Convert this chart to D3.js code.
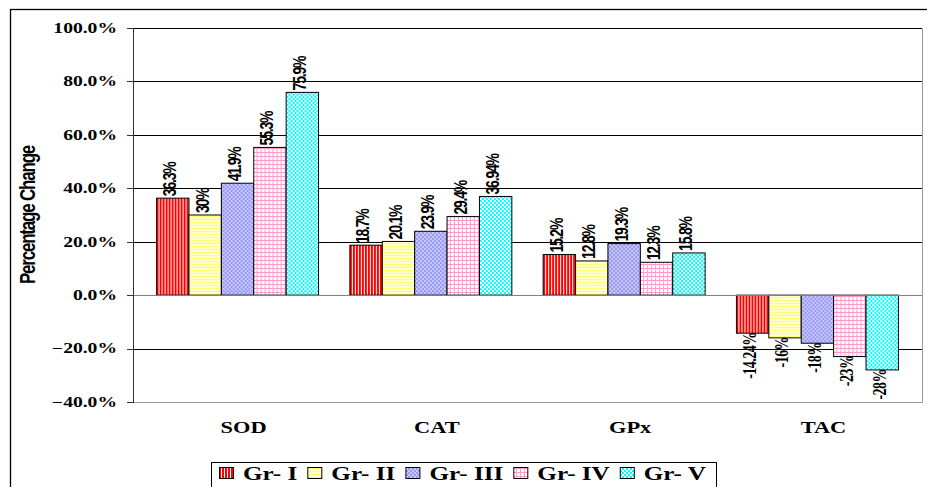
<!DOCTYPE html>
<html>
<head>
<meta charset="utf-8">
<script src="https://cdn.jsdelivr.net/npm/d3@7"></script>
<style>
  body { margin: 0; background: #fff; }
  svg { display: block; }
</style>
</head>
<body>
<svg id="chart" width="927" height="487"></svg>
<script>
var categories = ["SOD", "CAT", "GPx", "TAC"];
var groups = ["Gr- I", "Gr- II", "Gr- III", "Gr- IV", "Gr- V"];
var grI   = [36.3, 18.7, 15.2, -14.24];
var grII  = [30, 20.1, 12.8, -16];
var grIII = [41.9, 23.9, 19.3, -18];
var grIV  = [55.3, 29.4, 12.3, -23];
var grV   = [75.9, 36.94, 15.8, -28];
var yTicks = [-40, -20, 0, 20, 40, 60, 80, 100];

var series = [grI, grII, grIII, grIV, grV];

var svg = d3.select("#chart"),
  plot = {left: 133, right: 922, top: 28, bottom: 402},
  stretch = 1.4;

var serif = "'Liberation Serif', 'Times New Roman', serif";
var sans = "'Liberation Sans', Arial, sans-serif";

// patterns, one per group
var defs = svg.append("defs");

var p1 = defs.append("pattern").attr("id", "pat0").attr("patternUnits", "userSpaceOnUse")
  .attr("width", 3).attr("height", 3);
p1.append("rect").attr("width", 3).attr("height", 3).attr("fill", "#fff");
p1.append("rect").attr("width", 2).attr("height", 3).attr("fill", "#ff0000");

var p2 = defs.append("pattern").attr("id", "pat1").attr("patternUnits", "userSpaceOnUse")
  .attr("width", 3).attr("height", 3);
p2.append("rect").attr("width", 3).attr("height", 3).attr("fill", "#ffffd0");
p2.append("rect").attr("width", 3).attr("height", 1).attr("fill", "#ffff70");

var p3 = defs.append("pattern").attr("id", "pat2").attr("patternUnits", "userSpaceOnUse")
  .attr("width", 4).attr("height", 4);
p3.append("rect").attr("width", 4).attr("height", 4).attr("fill", "#c8c8fc");
p3.append("rect").attr("width", 2).attr("height", 2).attr("fill", "#9898f0");
p3.append("rect").attr("x", 2).attr("y", 2).attr("width", 2).attr("height", 2).attr("fill", "#9898f0");

var p4 = defs.append("pattern").attr("id", "pat3").attr("patternUnits", "userSpaceOnUse")
  .attr("width", 4).attr("height", 4);
p4.append("rect").attr("width", 4).attr("height", 4).attr("fill", "#fff");
p4.append("rect").attr("width", 4).attr("height", 1).attr("fill", "#ff99cc");
p4.append("rect").attr("width", 1).attr("height", 4).attr("fill", "#ff99cc");

var p5 = defs.append("pattern").attr("id", "pat4").attr("patternUnits", "userSpaceOnUse")
  .attr("width", 4).attr("height", 4);
p5.append("rect").attr("width", 4).attr("height", 4).attr("fill", "#00ffff");
p5.append("rect").attr("width", 2).attr("height", 2).attr("fill", "#fff");
p5.append("rect").attr("x", 2).attr("y", 2).attr("width", 2).attr("height", 2).attr("fill", "#fff");

// outer chart border (cut off by the picture edges)
svg.append("rect")
  .attr("x", 10.5).attr("y", 9.5)
  .attr("width", 960).attr("height", 520)
  .attr("fill", "none").attr("stroke", "#000").attr("stroke-width", 1.3);

var x0 = d3.scaleBand()
  .domain(categories)
  .range([plot.left, plot.right])
  .paddingInner(0.162)
  .paddingOuter(0.122);

var x1 = d3.scaleBand()
  .domain(groups)
  .range([0, x0.bandwidth()]);

var y = d3.scaleLinear()
  .domain([-40, 100])
  .range([plot.bottom, plot.top]);

// gridlines
svg.append("g")
  .selectAll("line")
  .data(yTicks.filter(function(t) { return t != 0 && t != -40; }))
  .enter().append("line")
  .attr("x1", plot.left).attr("x2", plot.right)
  .attr("y1", function(d) { return Math.round(y(d)) + 0.5; })
  .attr("y2", function(d) { return Math.round(y(d)) + 0.5; })
  .attr("stroke", "#000");

// plot border (right, bottom)
svg.append("path")
  .attr("d", "M" + (plot.right + 0.5) + "," + (plot.top + 0.5) + "V" + (plot.bottom + 0.5) + "H" + plot.left)
  .attr("fill", "none")
  .attr("stroke", "#999");

// bars
var cat = svg.append("g").selectAll("g")
  .data(categories)
  .enter().append("g")
  .attr("transform", function(d) { return "translate(" + x0(d) + ",0)"; });

var bars = cat.selectAll("g")
  .data(function(d, ci) {
    return groups.map(function(g, gi) { return {group: g, gi: gi, value: series[gi][ci]}; });
  })
  .enter().append("g");

bars.append("rect")
  .attr("x", function(d) { return x1(d.group); })
  .attr("y", function(d) { return y(Math.max(0, d.value)); })
  .attr("width", x1.bandwidth())
  .attr("height", function(d) { return Math.abs(y(d.value) - y(0)); })
  .attr("fill", function(d) { return "url(#pat" + d.gi + ")"; })
  .attr("stroke", "#000")
  .attr("stroke-width", 1);

// value labels
bars.append("text")
  .attr("transform", function(d) {
    var cx = x1(d.group) + x1.bandwidth() / 2 - 3;
    var yy = d.value >= 0 ? y(d.value) - 2 : y(d.value) - 1;
    return "translate(" + cx + "," + yy + ") scale(1.3,1) rotate(-90)";
  })
  .attr("dy", "0.35em")
  .attr("text-anchor", function(d) { return d.value >= 0 ? "start" : "end"; })
  .style("font-family", function(d) { return d.value >= 0 ? sans : serif; })
  .style("font-weight", "bold")
  .style("font-size", "14px")
  .style("letter-spacing", function(d) { return d.value >= 0 ? "-1.2px" : "-0.5px"; })
  .text(function(d) { return d.value + "%"; });

// zero line
svg.append("line")
  .attr("x1", plot.left).attr("x2", plot.right)
  .attr("y1", Math.round(y(0)) + 0.5).attr("y2", Math.round(y(0)) + 0.5)
  .attr("stroke", "#808080");

// y axis
var yAxis = svg.append("g").attr("class", "y axis");
yAxis.append("line")
  .attr("x1", plot.left + 0.5).attr("x2", plot.left + 0.5)
  .attr("y1", plot.top).attr("y2", plot.bottom + 1)
  .attr("stroke", "#333");
yAxis.selectAll(".tick")
  .data(yTicks)
  .enter().append("line")
  .attr("x1", plot.left - 6).attr("x2", plot.left)
  .attr("y1", function(d) { return Math.round(y(d)) + 0.5; })
  .attr("y2", function(d) { return Math.round(y(d)) + 0.5; })
  .attr("stroke", "#333");
yAxis.selectAll("text")
  .data(yTicks)
  .enter().append("text")
  .attr("transform", function(d) { return "translate(117," + y(d) + ") scale(" + stretch + ",1)"; })
  .attr("dy", "0.35em")
  .attr("text-anchor", "end")
  .style("font-family", serif)
  .style("font-weight", "bold")
  .style("font-size", "14px")
  .text(function(d) { return d3.format(".1f")(d) + "%"; });

// y title
svg.append("text")
  .attr("transform", "translate(27,215) scale(1.3,1) rotate(-90)")
  .attr("dy", "0.35em")
  .attr("text-anchor", "middle")
  .style("font-family", sans)
  .style("font-weight", "bold")
  .style("font-size", "17px")
  .style("letter-spacing", "-1.2px")
  .text("Percentage Change");

// category labels
svg.append("g").selectAll("text")
  .data(categories)
  .enter().append("text")
  .attr("transform", function(d) { return "translate(" + (x0(d) + x0.bandwidth() / 2 + 6) + ",427) scale(" + stretch + ",1)"; })
  .attr("dy", "0.35em")
  .attr("text-anchor", "middle")
  .style("font-family", serif)
  .style("font-weight", "bold")
  .style("font-size", "16px")
  .text(function(d) { return d; });

// legend
var legend = svg.append("g").attr("class", "legend");
legend.append("rect")
  .attr("x", 211.5).attr("y", 462.5)
  .attr("width", 505).attr("height", 40)
  .attr("fill", "#fff").attr("stroke", "#000");

var lx = 219;
groups.forEach(function(g, gi) {
  legend.append("rect")
    .attr("x", lx + 0.5).attr("y", 467.5)
    .attr("width", 14).attr("height", 11)
    .attr("fill", "url(#pat" + gi + ")")
    .attr("stroke", "#000");
  var t = legend.append("text")
    .attr("transform", "translate(" + (lx + 24) + ",474) scale(" + stretch + ",1)")
    .attr("dy", "0.35em")
    .style("font-family", serif)
    .style("font-weight", "bold")
    .style("font-size", "18px")
    .text(g);
  lx = lx + 24 + t.node().getComputedTextLength() * stretch + 10;
});
</script>
</body>
</html>
